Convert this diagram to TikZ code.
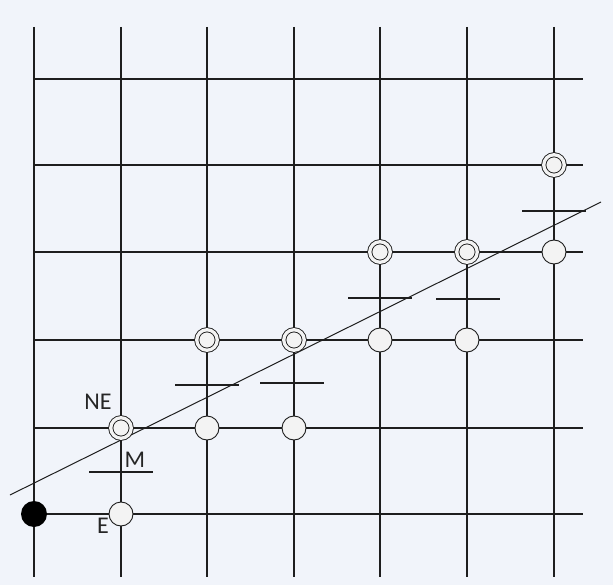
\documentclass[tikz,border=0pt]{standalone}
\usepackage{fontspec}
\setmainfont{Carlito}
\definecolor{bgc}{RGB}{241,244,250}
\definecolor{circfill}{RGB}{243,243,243}
\definecolor{gridc}{RGB}{30,30,30}
\begin{document}
\begin{tikzpicture}[x=1pt,y=-1pt,
  gridline/.style={draw=gridc,line width=1.1pt},
  plainpt/.style={circle,draw=gridc,line width=0.9pt,fill=circfill,minimum size=24pt,inner sep=0pt},
  ringpt/.style={circle,draw=gridc,line width=0.9pt,fill=circfill,double=circfill,double distance=3.3pt,minimum size=20.5pt,inner sep=0pt},
  startpt/.style={circle,fill=black,minimum size=26pt,inner sep=0pt},
  midmark/.style={draw=gridc,line width=2.4pt},
  lbl/.style={font=\fontsize{24}{26}\selectfont,text=black!85,inner sep=0pt},
  idealline/.style={draw=gridc,line width=1pt}]
\fill[bgc] (0,0) rectangle (613,585);
\useasboundingbox (0,0) rectangle (613,585);
% grid
\foreach \x in {34,121,207,294,380,467,554}
  \draw[gridline] (\x,27) -- (\x,577);
\foreach \y in {79,165,252,340,428,514}
  \draw[gridline] (34,\y) -- (583,\y);
% ideal line
\coordinate (ls) at (10,495);
\coordinate (le) at (601,202);
\draw[idealline] (ls) -- (le);
% midpoint marks
\coordinate (m1) at (121,472);
\coordinate (m2) at (207,385);
\coordinate (m3) at (292,383);
\coordinate (m4) at (380,298);
\coordinate (m5) at (468,299);
\coordinate (m6) at (554,211);
\foreach \m in {m1,m2,m3,m4,m5,m6}
  \draw[midmark] ([xshift=-32pt]\m) -- ([xshift=32pt]\m);
% points
\node[startpt] (s) at (34,514) {};
\node[plainpt] (e1) at (121,514) {};
\node[ringpt] (ne1) at (121,428) {};
\node[plainpt] (e2) at (207,428) {};
\node[ringpt] (ne2) at (207,340) {};
\node[plainpt] (e3) at (294,428) {};
\node[ringpt] (ne3) at (294,340) {};
\node[plainpt] (e4) at (380,340) {};
\node[ringpt] (ne4) at (380,252) {};
\node[plainpt] (e5) at (467,340) {};
\node[ringpt] (ne5) at (467,252) {};
\node[plainpt] (e6) at (554,252) {};
\node[ringpt] (ne6) at (554,165) {};
% labels
\node[lbl] (lne) at (98,402) {NE};
\node[lbl] (lm) at (135,460) {M};
\node[lbl] (le1) at (103,526) {E};
\end{tikzpicture}
\end{document}
